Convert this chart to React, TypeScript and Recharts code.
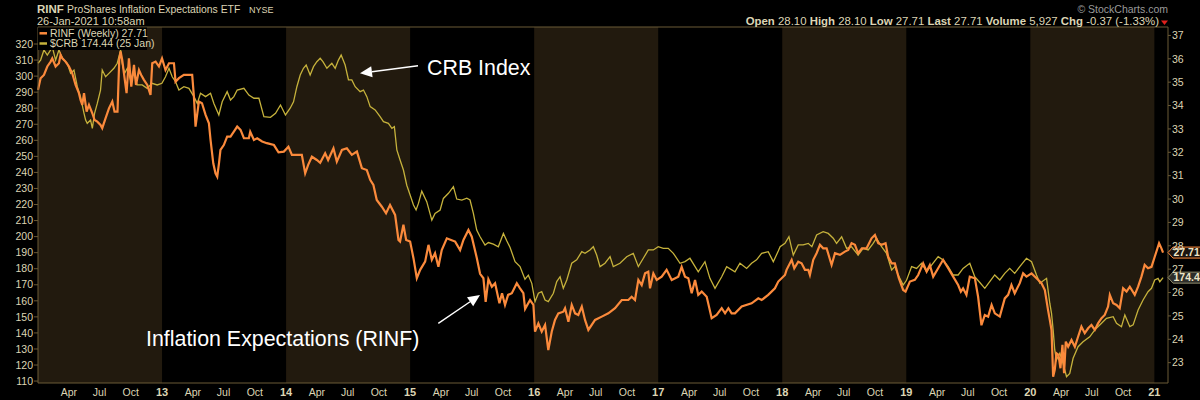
import { LineChart, Line, XAxis, YAxis, ReferenceArea } from "recharts";

// $CRB index, left scale: [decimal year, value]
const crb: [number, number][] = [
  [2012.0, 308], [2012.021, 310], [2012.048, 316.3], [2012.075, 313.1], [2012.102, 316.3], [2012.115, 318.3], [2012.142, 310], [2012.169, 316.3], [2012.196, 311.1], [2012.236, 308], [2012.263, 301.7], [2012.29, 303.8], [2012.317, 293.4], [2012.343, 287], [2012.371, 276.8], [2012.384, 272.6], [2012.397, 270.6], [2012.424, 272.6], [2012.438, 267.5], [2012.456, 276.8], [2012.478, 283], [2012.504, 291.3], [2012.518, 303.8], [2012.545, 299.6], [2012.572, 301.7], [2012.612, 304.9], [2012.639, 308], [2012.666, 316.3], [2012.679, 308], [2012.698, 301.7], [2012.72, 304.9], [2012.746, 297.6], [2012.774, 301.7], [2012.8, 294.5], [2012.84, 294.5], [2012.88, 292.4], [2012.92, 295.5], [2012.961, 294.5], [2012.999, 295.5],
  [2013.028, 299.6], [2013.056, 304.9], [2013.082, 299.6], [2013.109, 296.5], [2013.136, 291.3], [2013.176, 293.4], [2013.217, 292.4], [2013.257, 287.2], [2013.284, 283], [2013.31, 289.3], [2013.351, 287.2], [2013.391, 289.3], [2013.418, 283], [2013.458, 275.8], [2013.485, 284], [2013.525, 290.3], [2013.552, 285.1], [2013.579, 287.2], [2013.606, 291.3], [2013.66, 292.4], [2013.7, 288.2], [2013.741, 286.2], [2013.781, 286.2], [2013.821, 274.7], [2013.874, 274.3], [2013.915, 276.8], [2013.955, 282], [2013.995, 275.8],
  [2014.033, 280], [2014.06, 284], [2014.087, 293.4], [2014.114, 300.7], [2014.14, 304.9], [2014.162, 306.9], [2014.194, 300.7], [2014.221, 305.9], [2014.248, 309], [2014.275, 311.1], [2014.297, 309], [2014.329, 304.9], [2014.369, 308], [2014.396, 304.9], [2014.422, 310], [2014.444, 313.1], [2014.476, 306.9], [2014.503, 297.6], [2014.53, 297.6], [2014.557, 293.4], [2014.597, 290.3], [2014.624, 291.3], [2014.651, 287.2], [2014.678, 281], [2014.718, 278.9], [2014.758, 274.7], [2014.785, 271.6], [2014.825, 270.6], [2014.853, 267.5], [2014.873, 268.5], [2014.893, 254], [2014.919, 247.7], [2014.946, 241.5], [2014.973, 232],
  [2015.0, 225.9], [2015.027, 219.7], [2015.048, 216.6], [2015.067, 220.7], [2015.094, 228.3], [2015.134, 221.8], [2015.175, 210.3], [2015.201, 214.5], [2015.242, 216.6], [2015.268, 223.8], [2015.309, 227], [2015.349, 231.1], [2015.376, 223.4], [2015.417, 222.8], [2015.457, 223.9], [2015.483, 222.8], [2015.51, 214.5], [2015.537, 204.1], [2015.564, 199.9], [2015.604, 194.8], [2015.631, 196.3], [2015.671, 195.3], [2015.711, 193.7], [2015.752, 202], [2015.779, 197.4], [2015.806, 193.2], [2015.846, 184.4], [2015.886, 181.3], [2015.926, 173.5], [2015.953, 176], [2015.981, 170.9],
  [2016.007, 159.5], [2016.034, 164.7], [2016.061, 165.7], [2016.088, 160.5], [2016.114, 159.5], [2016.155, 164.7], [2016.182, 172], [2016.209, 175], [2016.235, 167.8], [2016.263, 173], [2016.303, 183.4], [2016.343, 185.5], [2016.384, 190.6], [2016.41, 189.6], [2016.45, 191.7], [2016.477, 193.7], [2016.504, 188.5], [2016.531, 181.3], [2016.571, 183.4], [2016.612, 187.5], [2016.638, 181.3], [2016.692, 183.4], [2016.746, 187.5], [2016.799, 189.6], [2016.84, 181.3], [2016.88, 186.5], [2016.92, 191.7], [2016.961, 191.7],
  [2017.0, 193.7], [2017.041, 192.7], [2017.081, 192.7], [2017.122, 189.6], [2017.176, 183.4], [2017.216, 184.4], [2017.256, 186.5], [2017.323, 178.1], [2017.377, 184.4], [2017.417, 174], [2017.458, 167.8], [2017.512, 175], [2017.552, 181.3], [2017.619, 178.1], [2017.659, 183.4], [2017.713, 180.2], [2017.753, 183.4], [2017.793, 185.5], [2017.834, 189.6], [2017.887, 190.6], [2017.928, 184.4], [2017.968, 191], [2017.983, 193.7],
  [2018.022, 195.8], [2018.054, 200], [2018.089, 188.5], [2018.129, 194.8], [2018.169, 194.8], [2018.21, 195.8], [2018.239, 193.7], [2018.277, 201], [2018.33, 203.1], [2018.371, 202], [2018.411, 199], [2018.438, 195.8], [2018.479, 199.9], [2018.519, 192.7], [2018.559, 193.7], [2018.612, 188.5], [2018.652, 192.7], [2018.693, 191.7], [2018.733, 195.8], [2018.76, 199], [2018.801, 193.7], [2018.841, 189.6], [2018.882, 179.2], [2018.908, 181.3], [2018.935, 176], [2018.975, 169.8],
  [2019.002, 172.8], [2019.043, 181.3], [2019.083, 180.2], [2019.123, 183.4], [2019.164, 178.1], [2019.204, 182.3], [2019.257, 187.5], [2019.297, 185.5], [2019.338, 181.3], [2019.378, 176.1], [2019.418, 176.1], [2019.458, 180.2], [2019.512, 183.4], [2019.552, 175], [2019.593, 171.4], [2019.633, 167.8], [2019.673, 171.9], [2019.713, 176.1], [2019.754, 173], [2019.794, 177.1], [2019.834, 180.2], [2019.874, 177.1], [2019.915, 181.3], [2019.969, 186.5],
  [2020.01, 184.4], [2020.05, 176.1], [2020.077, 170.9], [2020.131, 174], [2020.157, 158.5], [2020.171, 152.2], [2020.184, 141.9], [2020.197, 129.4], [2020.211, 123.2], [2020.238, 127.3], [2020.264, 121.1], [2020.292, 112.7], [2020.318, 114.8], [2020.345, 124.2], [2020.385, 131.4], [2020.425, 134.5], [2020.479, 137.6], [2020.52, 141.9], [2020.574, 146], [2020.614, 149.1], [2020.668, 150.1], [2020.695, 146], [2020.735, 143.9], [2020.762, 151.2], [2020.802, 143.9], [2020.829, 145], [2020.869, 154.3], [2020.909, 160.5], [2020.949, 165.7], [2020.977, 167.8],
  [2021.003, 173], [2021.03, 174], [2021.044, 171.9], [2021.07, 174.44],
];

// RINF weekly close, right scale: [decimal year, value]
const rinf: [number, number][] = [
  [2012.0, 34.67], [2012.021, 35.17], [2012.048, 35.31], [2012.075, 35.67], [2012.102, 35.88], [2012.115, 36.02], [2012.142, 35.67], [2012.169, 35.81], [2012.182, 36.17], [2012.196, 36.02], [2012.222, 35.88], [2012.25, 35.67], [2012.276, 35.38], [2012.303, 34.88], [2012.33, 34.53], [2012.343, 34.24], [2012.357, 34.03], [2012.371, 34.53], [2012.392, 33.74], [2012.411, 34.03], [2012.438, 33.67], [2012.456, 33.38], [2012.478, 33.31], [2012.504, 33.17], [2012.518, 33.03], [2012.545, 33.46], [2012.572, 33.88], [2012.599, 34.17], [2012.617, 33.74], [2012.641, 33.74], [2012.655, 35.95], [2012.666, 36.31], [2012.679, 35.95], [2012.693, 35.38], [2012.714, 34.53], [2012.733, 36.02], [2012.752, 34.81], [2012.774, 35.74], [2012.79, 34.88], [2012.814, 35.52], [2012.832, 35.31], [2012.854, 35.1], [2012.881, 34.88], [2012.907, 34.45], [2012.921, 35.81], [2012.948, 35.88], [2012.975, 35.67],
  [2013.0, 36.02], [2013.028, 35.52], [2013.056, 35.81], [2013.096, 35.81], [2013.109, 35.02], [2013.136, 35.17], [2013.176, 35.31], [2013.217, 35.31], [2013.243, 35.31], [2013.257, 34.38], [2013.27, 33.1], [2013.297, 34.17], [2013.322, 34.1], [2013.351, 33.6], [2013.378, 33.24], [2013.391, 32.53], [2013.413, 31.53], [2013.431, 31.1], [2013.445, 30.96], [2013.459, 31.53], [2013.471, 32.1], [2013.498, 32.31], [2013.525, 32.67], [2013.552, 32.67], [2013.579, 32.88], [2013.606, 33.1], [2013.633, 32.96], [2013.66, 32.6], [2013.7, 32.6], [2013.711, 32.88], [2013.741, 32.53], [2013.767, 32.6], [2013.807, 32.46], [2013.845, 32.39], [2013.902, 32.31], [2013.939, 32.0], [2013.982, 32.03],
  [2014.019, 32.24], [2014.047, 31.89], [2014.127, 31.89], [2014.154, 31.1], [2014.178, 31.46], [2014.208, 31.81], [2014.248, 31.67], [2014.275, 31.55], [2014.315, 31.96], [2014.339, 31.67], [2014.382, 32.17], [2014.409, 31.6], [2014.45, 32.1], [2014.49, 32.17], [2014.53, 31.89], [2014.571, 32.03], [2014.611, 31.32], [2014.651, 31.24], [2014.678, 30.82], [2014.704, 30.6], [2014.731, 29.96], [2014.772, 29.67], [2014.806, 29.39], [2014.838, 29.75], [2014.879, 29.32], [2014.906, 28.25], [2014.919, 28.18], [2014.946, 28.9], [2014.968, 28.25],
  [2015.0, 28.18], [2015.027, 27.47], [2015.054, 26.61], [2015.081, 26.97], [2015.121, 27.32], [2015.148, 28.04], [2015.175, 27.4], [2015.201, 27.68], [2015.228, 27.1], [2015.255, 27.82], [2015.296, 28.32], [2015.33, 28.25], [2015.363, 28.18], [2015.403, 27.82], [2015.43, 28.25], [2015.47, 28.68], [2015.497, 28.39], [2015.538, 27.47], [2015.564, 26.8], [2015.591, 26.61], [2015.609, 25.6], [2015.631, 26.57], [2015.659, 26.25], [2015.685, 26.4], [2015.72, 25.54], [2015.741, 25.97], [2015.765, 25.47], [2015.79, 25.9], [2015.82, 25.97], [2015.86, 26.4], [2015.886, 26.18], [2015.913, 25.97], [2015.927, 25.3], [2015.967, 25.68], [2015.994, 25.47],
  [2016.007, 24.33], [2016.034, 24.68], [2016.061, 24.33], [2016.088, 24.61], [2016.114, 23.54], [2016.142, 24.33], [2016.168, 24.83], [2016.195, 25.11], [2016.235, 25.18], [2016.249, 25.33], [2016.276, 24.75], [2016.303, 25.47], [2016.33, 25.11], [2016.356, 25.04], [2016.384, 25.4], [2016.41, 24.83], [2016.437, 24.4], [2016.491, 24.83], [2016.545, 24.97], [2016.598, 25.11], [2016.652, 25.33], [2016.706, 25.68], [2016.759, 25.68], [2016.786, 25.82], [2016.813, 25.68], [2016.84, 26.54], [2016.867, 26.32], [2016.894, 26.82], [2016.92, 26.89], [2016.934, 26.18], [2016.961, 26.82], [2016.988, 26.54],
  [2017.028, 26.68], [2017.068, 26.97], [2017.109, 26.54], [2017.162, 26.68], [2017.189, 27.1], [2017.216, 26.68], [2017.243, 26.61], [2017.27, 25.97], [2017.297, 26.54], [2017.323, 25.9], [2017.351, 26.04], [2017.391, 25.82], [2017.431, 24.9], [2017.471, 25.04], [2017.512, 25.33], [2017.539, 25.11], [2017.566, 25.33], [2017.592, 25.11], [2017.619, 25.11], [2017.673, 25.4], [2017.753, 25.54], [2017.807, 25.75], [2017.834, 25.68], [2017.887, 25.9], [2017.941, 26.18], [2017.968, 26.47],
  [2018.022, 26.75], [2018.035, 26.97], [2018.076, 27.4], [2018.097, 27.04], [2018.129, 27.32], [2018.156, 27.25], [2018.183, 26.97], [2018.21, 26.97], [2018.223, 26.75], [2018.25, 27.4], [2018.277, 27.68], [2018.304, 28.04], [2018.33, 27.89], [2018.358, 27.89], [2018.398, 27.18], [2018.425, 27.68], [2018.465, 27.61], [2018.505, 27.75], [2018.532, 27.82], [2018.559, 28.11], [2018.586, 28.04], [2018.612, 27.68], [2018.642, 27.89], [2018.68, 27.89], [2018.72, 28.32], [2018.747, 28.46], [2018.774, 28.11], [2018.801, 28.04], [2018.833, 28.11], [2018.854, 27.53], [2018.882, 27.25], [2018.908, 27.25], [2018.94, 26.61], [2018.975, 26.11], [2018.994, 26.04],
  [2019.029, 26.47], [2019.069, 26.54], [2019.096, 26.75], [2019.136, 27.25], [2019.164, 26.9], [2019.19, 27.18], [2019.217, 26.68], [2019.257, 27.04], [2019.297, 27.4], [2019.338, 27.04], [2019.378, 26.68], [2019.418, 26.32], [2019.44, 26.04], [2019.458, 26.18], [2019.485, 25.9], [2019.512, 26.68], [2019.553, 26.61], [2019.579, 25.82], [2019.606, 24.6], [2019.633, 25.04], [2019.66, 24.97], [2019.688, 25.47], [2019.714, 25.11], [2019.754, 24.97], [2019.794, 25.75], [2019.821, 25.9], [2019.848, 26.32], [2019.874, 25.97], [2019.915, 26.4], [2019.942, 26.82], [2019.969, 26.68],
  [2020.01, 26.82], [2020.05, 26.61], [2020.09, 26.4], [2020.117, 26.11], [2020.143, 25.25], [2020.157, 24.83], [2020.171, 24.4], [2020.184, 22.4], [2020.197, 22.69], [2020.211, 23.4], [2020.227, 23.33], [2020.243, 22.76], [2020.259, 23.76], [2020.272, 22.55], [2020.286, 23.9], [2020.305, 23.68], [2020.332, 23.97], [2020.359, 23.68], [2020.385, 24.11], [2020.412, 24.54], [2020.439, 24.26], [2020.466, 24.47], [2020.493, 24.61], [2020.52, 24.4], [2020.546, 24.68], [2020.574, 24.9], [2020.6, 25.04], [2020.627, 25.4], [2020.641, 25.9], [2020.668, 25.54], [2020.695, 25.47], [2020.721, 25.33], [2020.748, 26.18], [2020.776, 26.04], [2020.802, 26.25], [2020.842, 25.9], [2020.869, 26.25], [2020.896, 26.68], [2020.922, 27.18], [2020.949, 27.04], [2020.977, 27.1],
  [2021.003, 27.53], [2021.038, 28.11], [2021.057, 27.89], [2021.07, 27.71],
];

const years = [2012, 2013, 2014, 2015, 2016, 2017, 2018, 2019, 2020, 2021];
const shadedYears = [2012, 2014, 2016, 2018, 2020];
const months = [
  { label: "Apr", offset: 0.249 },
  { label: "Jul", offset: 0.496 },
  { label: "Oct", offset: 0.748 },
];
const crbTicks = [110, 120, 130, 140, 150, 160, 170, 180, 190, 200, 210, 220, 230, 240, 250, 260, 270, 280, 290, 300, 310, 320];
const rinfTicks = [23, 24, 25, 26, 27, 28, 29, 30, 31, 32, 33, 34, 35, 36, 37];
const quote = [
  ["Open", "28.10"],
  ["High", "28.10"],
  ["Low", "27.71"],
  ["Last", "27.71"],
  ["Volume", "5,927"],
  ["Chg", "-0.37 (-1.33%)"],
];

const FONT = '"Liberation Sans", Arial, Helvetica, sans-serif';
const CREAM = "#ddd5b4";
const FRAME = "#6a5a36";
const SHADE = "#221a0e";
const ORANGE = "#fb8a3c";
const YELLOW = "#c6b23c";
const W = 1200;
const H = 400;
const PLOT_RIGHT = 1168;

const crbData = crb.map(([t, v]) => ({ t, v }));
const rinfData = rinf.map(([t, v]) => ({ t, v }));

const xTicks = years.flatMap((y) => [
  ...(y > 2012 ? [y] : []),
  ...(y < 2021 ? months.map((m) => y + m.offset) : []),
]);

function DateTick({ x, y, payload }: any) {
  const v = payload.value as number;
  const yr = Math.floor(v + 1e-6);
  const m = months.find((mm) => Math.abs(v - yr - mm.offset) < 0.01);
  return (
    <text
      x={x}
      y={y + 12.5}
      textAnchor="middle"
      fill={CREAM}
      fontFamily={FONT}
      fontSize={m ? 10.5 : 11}
      fontWeight={m ? 400 : 700}
    >
      {m ? m.label : String(yr).slice(2)}
    </text>
  );
}

function endTag(count: number, border: string, fill: string) {
  return (p: any) => {
    if (p.index !== count - 1) return <g key={p.index} />;
    const y = p.cy;
    const x0 = PLOT_RIGHT;
    return (
      <g key="tag">
        <polygon
          points={`${x0},${y} ${x0 + 5},${y - 5.5} ${W + 2},${y - 5.5} ${W + 2},${y + 5.5} ${x0 + 5},${y + 5.5}`}
          fill={fill}
          stroke={border}
          strokeWidth={1}
        />
        <text x={x0 + 5.5} y={y + 3.8} fill="#eee6c8" fontFamily={FONT} fontSize={10.5} fontWeight={700}>
          {Number(p.value).toFixed(2)}
        </text>
      </g>
    );
  };
}

function Arrow({ x1, y1, x2, y2 }: { x1: number; y1: number; x2: number; y2: number }) {
  const dx = x2 - x1;
  const dy = y2 - y1;
  const len = Math.hypot(dx, dy);
  const ux = dx / len;
  const uy = dy / len;
  const bx = x2 - ux * 12;
  const by = y2 - uy * 12;
  const px = -uy * 5.5;
  const py = ux * 5.5;
  return (
    <g>
      <line x1={x1} y1={y1} x2={bx} y2={by} stroke="#fff" strokeWidth={1.4} />
      <polygon points={`${x2},${y2} ${bx + px},${by + py} ${bx - px},${by - py}`} fill="#fff" />
    </g>
  );
}

export default function App() {
  return (
    <div style={{ position: "relative", width: W, height: H, background: "#000", overflow: "hidden", fontFamily: FONT }}>
      <style>{`body{margin:0;background:#000}`}</style>
      <LineChart width={W} height={H} margin={{ top: 27, right: 0, bottom: 0, left: 0 }}>
        {shadedYears.map((y) => (
          <ReferenceArea key={y} x1={y} x2={y + 1} yAxisId="crb" fill={SHADE} fillOpacity={1} stroke="none" />
        ))}
        <XAxis
          type="number"
          dataKey="t"
          domain={[2012, 2021.11]}
          ticks={xTicks}
          interval={0}
          height={17}
          tick={<DateTick />}
          tickLine={false}
          tickSize={0}
          tickMargin={0}
          axisLine={{ stroke: FRAME }}
        />
        <YAxis
          yAxisId="crb"
          orientation="left"
          width={38}
          domain={[108.8, 330.6]}
          ticks={crbTicks}
          interval={0}
          tick={{ fill: CREAM, fontSize: 10.5, fontFamily: FONT }}
          tickSize={4}
          tickMargin={1}
          tickLine={{ stroke: FRAME }}
          axisLine={{ stroke: FRAME }}
        />
        <YAxis
          yAxisId="rinf"
          orientation="right"
          width={32}
          domain={[22.13, 37.36]}
          ticks={rinfTicks}
          interval={0}
          tick={{ fill: CREAM, fontSize: 10.5, fontFamily: FONT }}
          tickSize={3}
          tickMargin={1}
          tickLine={{ stroke: FRAME }}
          axisLine={{ stroke: FRAME }}
        />
        <Line
          data={crbData}
          dataKey="v"
          yAxisId="crb"
          type="linear"
          stroke={YELLOW}
          strokeWidth={1.3}
          dot={endTag(crbData.length, "#8c8a6a", "#2e2e2a")}
          activeDot={false}
          isAnimationActive={false}
        />
        <Line
          data={rinfData}
          dataKey="v"
          yAxisId="rinf"
          type="linear"
          stroke={ORANGE}
          strokeWidth={2.2}
          dot={endTag(rinfData.length, ORANGE, "#1a1410")}
          activeDot={false}
          isAnimationActive={false}
        />
      </LineChart>

      <svg width={W} height={H} style={{ position: "absolute", left: 0, top: 0, pointerEvents: "none" }} fontFamily={FONT}>
        {/* frame top line */}
        <line x1={38} y1={27} x2={PLOT_RIGHT} y2={27} stroke={FRAME} strokeWidth={1} />

        {/* header */}
        <text x={37} y={12.8} fill={CREAM} fontSize={11.5} fontWeight={700}>RINF</text>
        <text x={67} y={12.8} fill={CREAM} fontSize={10.4}>ProShares Inflation Expectations ETF</text>
        <text x={249} y={12.8} fill={CREAM} fontSize={9}>NYSE</text>
        <text x={37} y={24.5} fill={CREAM} fontSize={11}>26-Jan-2021 10:58am</text>
        <text x={1168} y={12.5} textAnchor="end" fill="#9a9a9a" fontSize={10.5}>© StockCharts.com</text>
        <text x={1159} y={24.5} textAnchor="end" fill={CREAM} fontSize={11.4}>
          {quote.map(([k, v], i) => (
            <tspan key={k}>
              <tspan fontWeight={700}>{(i > 0 ? "  " : "") + k}</tspan>
              <tspan>{" " + v}</tspan>
            </tspan>
          ))}
        </text>
        <polygon points="1161,20.5 1168,20.5 1164.5,25" fill="#e0201c" />

        {/* legend */}
        <rect x={38} y={27.5} width={109} height={22.5} fill="#000" />
        <line x1={39.5} y1={33.3} x2={47} y2={33.3} stroke={ORANGE} strokeWidth={2.5} />
        <text x={50} y={37} fill={CREAM} fontSize={10.5}>RINF (Weekly) 27.71</text>
        <line x1={39.5} y1={43.5} x2={47} y2={43.5} stroke={YELLOW} strokeWidth={2.5} />
        <text x={50} y={47.2} fill={CREAM} fontSize={10.5}>$CRB 174.44 (25 Jan)</text>

        {/* annotations */}
        <Arrow x1={418} y1={65.7} x2={360} y2={73.3} />
        <text x={427} y={74.5} fill="#fff" fontSize={21.4}>CRB Index</text>
        <Arrow x1={438.3} y1={323.3} x2={480} y2={295} />
        <text x={146} y={346} fill="#fff" fontSize={21.4}>Inflation Expectations (RINF)</text>
      </svg>
    </div>
  );
}
